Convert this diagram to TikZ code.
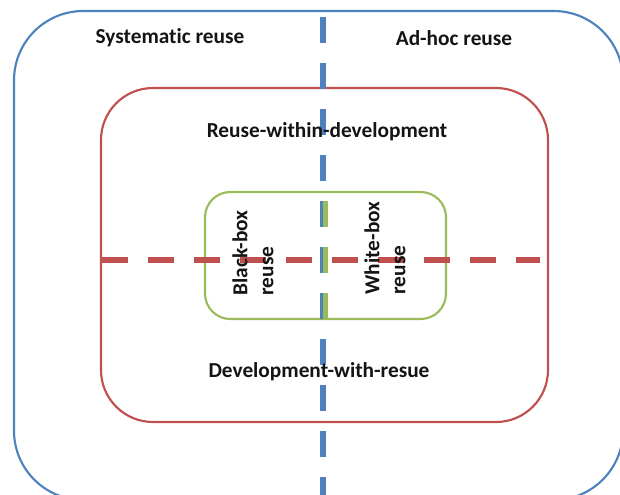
\documentclass[tikz,border=0pt]{standalone}
\usepackage{fontspec}
\setmainfont{Carlito}[Ligatures=NoCommon]
\definecolor{obl}{HTML}{4F81BD}
\definecolor{ord}{HTML}{C0504D}
\definecolor{ogr}{HTML}{9BBB59}
\begin{document}
\begin{tikzpicture}[x=0.75pt,y=-0.75pt,
  frame/.style={line width=1.6pt},
  dashline/.style={line width=3.8pt, dash pattern=on 19.5pt off 15pt},
  lbl/.style={font=\fontsize{16pt}{19.5pt}\selectfont\bfseries, inner sep=0pt, text=black!92},
  vlbl/.style={lbl, rotate=90, align=left}]
\useasboundingbox (0,0) rectangle (620,495);
% outer systematic/ad-hoc frame
\draw[frame, obl, rounded corners=52pt] (14,11) rectangle (623,500);
% reuse-within / with-reuse frame
\draw[frame, ord, rounded corners=39pt] (101,88) rectangle (548,422);
% black-box / white-box frame
\draw[frame, ogr, rounded corners=19pt] (205,192) rectangle (446,319);
% coordinates for the dashed dividers
\coordinate (rl) at (102,260);
\coordinate (rr) at (540,260);
\coordinate (bt) at (323,17);
\coordinate (bb) at (323,500);
\coordinate (gt) at (325.5,201);
\coordinate (gb) at (325.5,319);
\draw[dashline, ord] (rl) -- (rr);
\draw[dashline, obl] (bt) -- (bb);
\draw[dashline, ogr, line width=3.6pt] (gt) -- (gb);
% labels
\node[lbl] (sys) at (170,38) {Systematic reuse};
\node[lbl] (adh) at (454,38) {Ad-hoc reuse};
\node[lbl] (rwd) at (327,131.5) {Reuse-within-development};
\node[lbl] (dwr) at (319,371.5) {Development-with-resue};
\node[vlbl] (bbr) at (253,253) {Black-box\\reuse};
\node[vlbl] (wbr) at (385,248) {White-box\\reuse};
\end{tikzpicture}
\end{document}
